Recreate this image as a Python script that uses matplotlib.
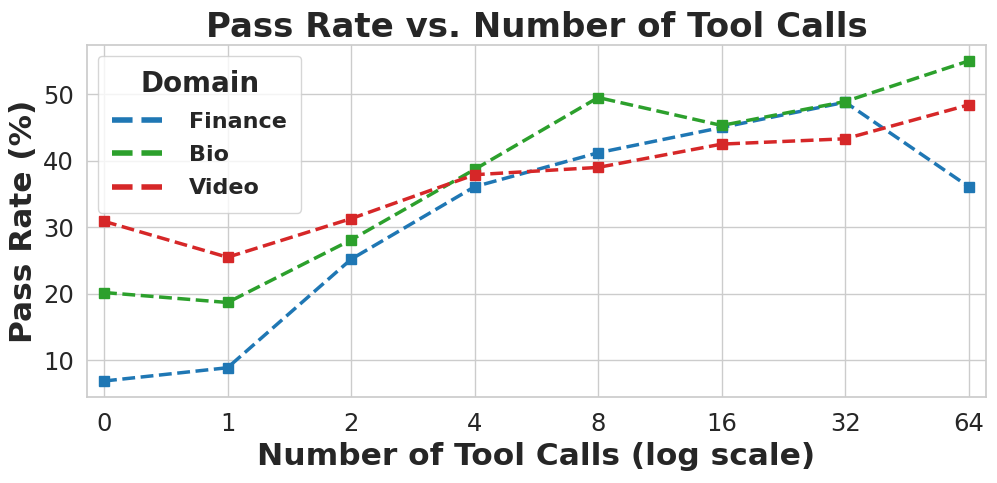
import matplotlib
matplotlib.use("Agg")
import matplotlib.pyplot as plt
from matplotlib.lines import Line2D
import seaborn as sns

tool_calls = ["0", "1", "2", "4", "8", "16", "32", "64"]
finance = [6.9, 8.9, 25.2, 36.1, 41.2, 45.0, 48.8, 36.1]
bio = [20.2, 18.7, 28.1, 38.7, 49.5, 45.3, 48.9, 55.0]
video = [30.9, 25.5, 31.3, 37.9, 39.0, 42.5, 43.3, 48.4]

sns.set_theme(style="whitegrid")
plt.rcParams['font.family'] = ['DejaVu Sans']

fig, ax = plt.subplots(figsize=(9.97, 4.83), dpi=100)
x = list(range(len(tool_calls)))
series = [("Finance", finance, "#1f77b4"), ("Bio", bio, "#2ca02c"), ("Video", video, "#d62728")]
handles = []
for name, vals, col in series:
    ax.plot(x, vals, '--s', color=col, lw=2.5, ms=7)
    handles.append(Line2D([], [], color=col, lw=4, ls='--', label=name))

ax.set_xticks(x)
ax.set_xticklabels(tool_calls)
ax.set_xlim(-0.14, 7.14)
ax.tick_params(axis='x', labelsize=17.5, length=0, pad=11)
ax.tick_params(axis='y', labelsize=17.5, length=0, pad=9)
ax.set_xlabel("Number of Tool Calls (log scale)", fontsize=22.5, fontweight='bold')
ax.set_ylabel("Pass Rate (%)", fontsize=22.5, fontweight='bold')
ax.set_title("Pass Rate vs. Number of Tool Calls", fontsize=24.5, fontweight='bold')

leg = ax.legend(handles=handles, title="Domain", loc='upper left',
                prop={'weight': 'bold', 'size': 16},
                title_fontproperties={'weight': 'bold', 'size': 20},
                handlelength=2.35, handletextpad=1.1,
                labelspacing=0.6, borderpad=0.65)

fig.subplots_adjust(left=0.087, right=0.989, top=0.907, bottom=0.178)
fig.savefig("out.png", dpi=100)
